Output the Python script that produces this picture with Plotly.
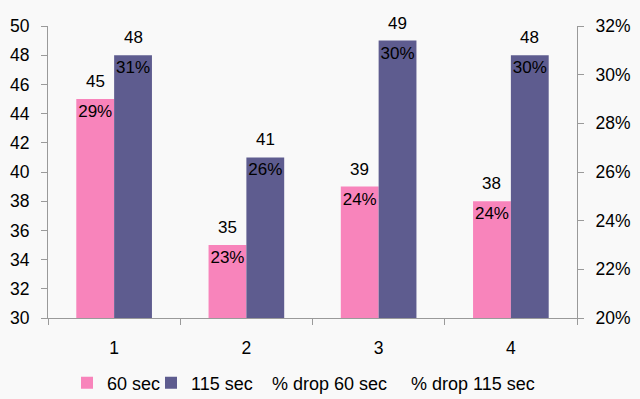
import plotly.graph_objects as go

categories = [1, 2, 3, 4]
cat_labels = ["1", "2", "3", "4"]
sec60 = [45, 35, 39, 38]
sec115 = [48, 41, 49, 48]
drop60 = [29, 23, 24, 24]
drop115 = [31, 26, 30, 30]

PINK = "#F884BB"
PURPLE = "#5E5C8F"
FONT = "Liberation Sans, Arial, sans-serif"
FS = 17.5
LFS = 17
LEGFS = 18
BW = 0.286

# plot-area geometry (pixels) used to place the separate legend entries
L, R, T, B = 48, 63, 26, 81
W, H = 640, 399
PW = W - L - R
PH = H - T - B
legend_text_px = [106, 190, 271, 410]
legend_y_px = 383


def lx(px):
    return (px - 39 - L) / PW


ly = -(legend_y_px - (H - B)) / PH

fig = go.Figure()
fig.add_trace(go.Bar(
    x=categories, y=sec60, name="60 sec", marker=dict(color=PINK, line=dict(width=0)),
    width=BW, offset=-BW, legend="legend",
    text=[f"{v}%" for v in drop60], textposition="inside", insidetextanchor="end",
    textfont=dict(color="black", size=LFS, family=FONT), textangle=0,
    constraintext="none",
))
fig.add_trace(go.Bar(
    x=categories, y=sec115, name="115 sec", marker=dict(color=PURPLE, line=dict(width=0)),
    width=BW, offset=0, legend="legend2",
    text=[f"{v}%" for v in drop115], textposition="inside", insidetextanchor="end",
    textfont=dict(color="black", size=LFS, family=FONT), textangle=0,
    constraintext="none",
))
fig.add_trace(go.Scatter(
    x=categories, y=drop60, name="% drop 60 sec", mode="lines", legend="legend3",
    line=dict(color="rgba(0,0,0,0)", width=0), yaxis="y2", hoverinfo="skip",
))
fig.add_trace(go.Scatter(
    x=categories, y=drop115, name="% drop 115 sec", mode="lines", legend="legend4",
    line=dict(color="rgba(0,0,0,0)", width=0), yaxis="y2", hoverinfo="skip",
))

# value labels above bars
for c, v in zip(categories, sec60):
    fig.add_annotation(x=c - BW / 2, y=v, text=str(v), showarrow=False,
                       yanchor="bottom", yshift=6, font=dict(size=LFS, family=FONT, color="black"))
for c, v in zip(categories, sec115):
    fig.add_annotation(x=c + BW / 2, y=v, text=str(v), showarrow=False,
                       yanchor="bottom", yshift=6, font=dict(size=LFS, family=FONT, color="black"))

legend_common = dict(orientation="h", xanchor="left", y=ly, yanchor="middle",
                     font=dict(size=LEGFS, family=FONT), itemwidth=30,
                     bgcolor="rgba(0,0,0,0)")

axis_color = "#9a9a9a"
fig.update_layout(
    width=W, height=H,
    margin=dict(l=L, r=R, t=T, b=B, autoexpand=False),
    paper_bgcolor="#F9F9F9", plot_bgcolor="#F9F9F9",
    font=dict(family=FONT, size=FS, color="black"),
    barmode="overlay",
    showlegend=True,
    legend=dict(x=lx(legend_text_px[0]), **legend_common),
    legend2=dict(x=lx(legend_text_px[1]), **legend_common),
    legend3=dict(x=lx(legend_text_px[2]), **legend_common),
    legend4=dict(x=lx(legend_text_px[3]), **legend_common),
    xaxis=dict(
        range=[0.5, 4.5], tickvals=categories, ticktext=cat_labels, ticks="",
        showline=True, linecolor=axis_color, linewidth=1, showgrid=False, zeroline=False,
        ticklabelstandoff=14,
        minor=dict(tickvals=[0.5, 1.5, 2.5, 3.5, 4.5], ticks="outside", ticklen=6,
                   tickcolor=axis_color, showgrid=False),
    ),
    yaxis=dict(
        range=[30, 50], dtick=2, tick0=30, showline=True, linecolor=axis_color,
        ticks="outside", ticklen=6, tickcolor=axis_color, showgrid=False, zeroline=False,
        ticklabelstandoff=8,
    ),
    yaxis2=dict(
        range=[20, 32], dtick=2, tick0=20, overlaying="y", side="right",
        ticksuffix="%", showline=True, linecolor=axis_color,
        ticks="outside", ticklen=6, tickcolor=axis_color, showgrid=False, zeroline=False,
        ticklabelstandoff=8,
    ),
)

fig.write_html("out.html", config={"displayModeBar": False},
               post_script="document.body.style.margin='0';document.body.style.background='#F9F9F9';")
